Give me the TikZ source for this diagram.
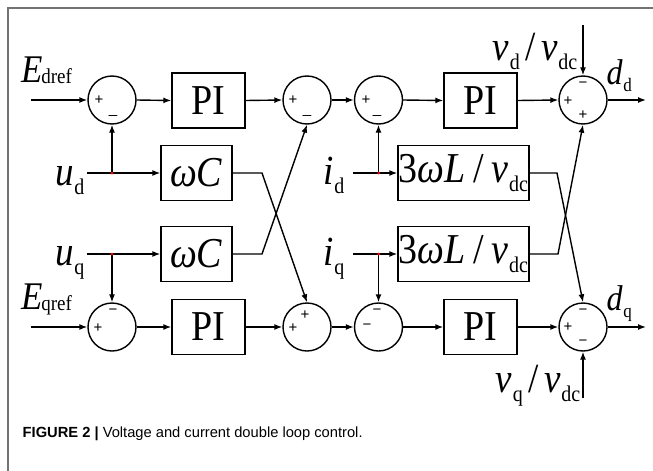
\documentclass[tikz,border=0pt]{standalone}
\usepackage{fontspec}
\setmainfont{Liberation Serif}
\newfontfamily\capfont{Liberation Sans}
\usetikzlibrary{arrows.meta}
\newcommand\sbs[2][20]{\kern0.02em\raisebox{-0.22em}{\fontsize{#1}{#1}\selectfont #2}}
\newcommand\slsh{\hspace{0.15em}/\hspace{0.15em}}
\newcommand\vst[1]{\scalebox{1}[1.12]{#1}}
\begin{document}
\begin{tikzpicture}[x=1pt,y=-1pt,line width=1.4pt,
  sumnode/.style={circle,draw,minimum size=48pt,inner sep=0pt},
  blk/.style={draw,minimum height=55pt,inner sep=0pt,font=\fontsize{38}{40}\selectfont},
  lab/.style={inner sep=0pt,font=\fontsize{37}{40}\selectfont},
  elab/.style={inner sep=0pt,font=\fontsize{35}{37}\selectfont},
  dlab/.style={inner sep=0pt,font=\fontsize{32}{34}\selectfont},
  sgn/.style={inner sep=0pt,font=\capfont\fontsize{15}{15}\selectfont},
  arr/.style={-{Latex[length=8pt,width=6pt]}},
  dot/.style={fill=red,draw=none,circle,inner sep=0pt,minimum size=3pt},
  frame/.style={draw=black!55,line width=1.5pt}]
\useasboundingbox (0,0) rectangle (653,471);
\draw[frame] (8,471) -- (8,8) -- (653,8);
% top row
\node[sumnode] (s1) at (112,100) {};
\node[blk,minimum width=73pt] (pi1) at (208.5,100.5) {\vst{PI}};
\node[sumnode] (s2) at (307,100) {};
\node[sumnode] (s3) at (378.5,100) {};
\node[blk,minimum width=73pt] (pi2) at (480.5,100.5) {\vst{PI}};
\node[sumnode] (s4) at (583,100) {};
% bottom row
\node[sumnode] (s5) at (112,327) {};
\node[blk,minimum width=73pt] (pi3) at (208.5,327) {\vst{PI}};
\node[sumnode] (s6) at (307,327) {};
\node[sumnode] (s7) at (378.5,327) {};
\node[blk,minimum width=73pt] (pi4) at (480.5,327) {\vst{PI}};
\node[sumnode] (s8) at (583,327) {};
% middle blocks
\node[blk,minimum width=71pt] (wc1) at (196.5,173) {\vst{\textit{ω}\kern-0.02em\textit{C}}};
\node[blk,minimum width=71pt] (wc2) at (196.5,254) {\vst{\textit{ω}\kern-0.02em\textit{C}}};
\node[blk,minimum width=131pt] (L1) at (463.5,173) {\vst{3\textit{ωL}\hspace{0.2em}/\hspace{0.2em}\textit{v}\sbs{dc}}};
\node[blk,minimum width=131pt] (L2) at (463.5,254) {\vst{3\textit{ωL}\hspace{0.2em}/\hspace{0.2em}\textit{v}\sbs{dc}}};
% labels
\node[elab,anchor=base west] (Ed) at (21,82) {\vst{\textit{E}\kern-0.05em\raisebox{-0.05em}{\fontsize{19}{19}\selectfont dref}}};
\node[elab,anchor=base west] (Eq) at (21,309) {\vst{\textit{E}\kern-0.05em\raisebox{-0.05em}{\fontsize{19}{19}\selectfont qref}}};
\node[lab,anchor=base east] (ud) at (85,185) {\vst{\textit{u}\sbs{d}}};
\node[lab,anchor=base east] (uq) at (85,265) {\vst{\textit{u}\sbs{q}}};
\node[lab,anchor=base east] (id) at (345,184) {\vst{\textit{i}\sbs{d}}};
\node[lab,anchor=base east] (iq) at (345,265) {\vst{\textit{i}\sbs{q}}};
\node[dlab,anchor=base west] (dd) at (606,84) {\vst{\textit{d}\sbs[17]{d}}};
\node[dlab,anchor=base west] (dq) at (606,310) {\vst{\textit{d}\sbs[17]{q}}};
\node[lab,anchor=base west] (vd) at (492,60) {\vst{\textit{v}\sbs{d}\slsh\textit{v}\sbs{dc}}};
\node[lab,anchor=base west] (vq) at (495,392) {\vst{\textit{v}\sbs{q}\slsh\textit{v}\sbs{dc}}};
% coordinates
\coordinate (e1) at (31,100);
\coordinate (e2) at (31,327);
\coordinate (u1) at (87,173);
\coordinate (u2) at (87,254);
\coordinate (i1) at (353,173);
\coordinate (i2) at (353,254);
\coordinate (o1) at (646,100);
\coordinate (o2) at (646,327);
\coordinate (t1) at (583,25);
\coordinate (t2) at (583,398);
\coordinate (k1) at (262,173);
\coordinate (k2) at (262,254);
\coordinate (k3) at (557,173);
\coordinate (k4) at (558,254);
\coordinate (r1) at (112,173);
\coordinate (r2) at (112,254);
\coordinate (r3) at (378.5,173);
\coordinate (r4) at (378.5,254);
% connections top
\draw[arr] (e1) -- (s1.west);
\draw[arr] (s1.east) -- (pi1.west);
\draw[arr] (pi1.east) -- (s2.west);
\draw[arr] (s2.east) -- (s3.west);
\draw[arr] (s3.east) -- (pi2.west);
\draw[arr] (pi2.east) -- (s4.west);
\draw[arr] (s4.east) -- (o1);
\draw[arr] (t1) -- (s4.north);
% connections bottom
\draw[arr] (e2) -- (s5.west);
\draw[arr] (s5.east) -- (pi3.west);
\draw[arr] (pi3.east) -- (s6.west);
\draw[arr] (s6.east) -- (s7.west);
\draw[arr] (s7.east) -- (pi4.west);
\draw[arr] (pi4.east) -- (s8.west);
\draw[arr] (s8.east) -- (o2);
\draw[arr] (t2) -- (s8.south);
% middle
\draw[arr] (u1) -- (wc1.west);
\draw[arr] (u2) -- (wc2.west);
\draw[arr] (i1) -- (L1.west);
\draw[arr] (i2) -- (L2.west);
\draw[arr] (r1) -- (s1.south);
\draw[arr] (r2) -- (s5.north);
\draw[arr] (r3) -- (s3.south);
\draw[arr] (r4) -- (s7.north);
\draw[arr] (wc1.east) -- (k1) -- (s6.north);
\draw[arr] (wc2.east) -- (k2) -- (s2.south);
\draw[arr] (L1.east) -- (k3) -- (s8.north);
\draw[arr] (L2.east) -- (k4) -- (s4.south);
\node[dot] (d1) at (r1) {};
\node[dot] (d2) at (r2) {};
\node[dot] (d3) at (r3) {};
\node[dot] (d4) at (r4) {};
% signs
\node[sgn] at (99,100) {+};   \node[sgn] at (113,115) {\_};
\node[sgn] at (293,100) {+};  \node[sgn] at (307,115) {\_};
\node[sgn] at (366,100) {+};  \node[sgn] at (377,115) {\_};
\node[sgn] at (583,85) {−};  \node[sgn] at (568,101) {+}; \node[sgn] at (583,115) {+};
\node[sgn] at (113,312) {−};  \node[sgn] at (98,328) {+};
\node[sgn] at (293,328) {+};  \node[sgn] at (305,315) {+};
\node[sgn] at (377,312) {−};  \node[sgn] at (367,327) {−};
\node[sgn] at (583,312) {−};  \node[sgn] at (568,327) {+}; \node[sgn] at (583,343) {−};
% caption
\node[inner sep=0pt,anchor=base west,font=\capfont\fontsize{14.7}{16}\selectfont] (cap) at (22,437)
  {\textbf{FIGURE 2 |} Voltage and current double loop control.};
\end{tikzpicture}
\end{document}
